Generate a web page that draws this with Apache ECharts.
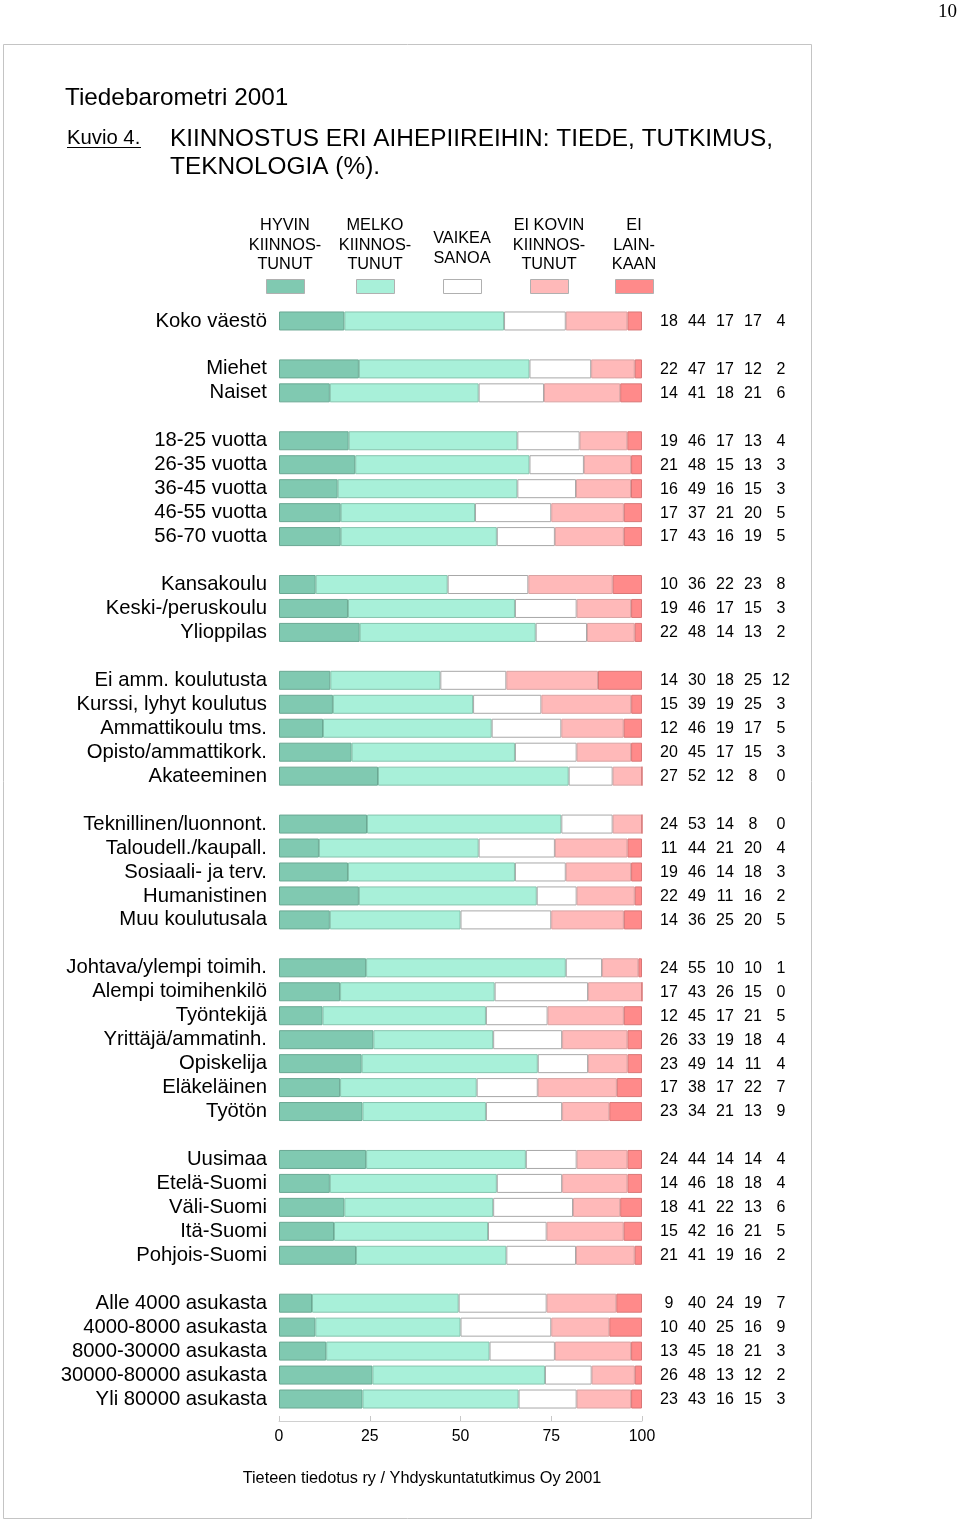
<!DOCTYPE html>
<html>
<head>
<meta charset="utf-8">
<script src="https://cdn.jsdelivr.net/npm/echarts@6/dist/echarts.min.js"></script>
<style>
html,body{margin:0;padding:0;background:#fff;}
#chart{width:960px;height:1520px;}
</style>
</head>
<body>
<div id="chart"></div>
<script>
// Rows top-to-bottom; '' marks the blank spacer rows between groups
const categories = [
  'Koko väestö', '',
  'Miehet', 'Naiset', '',
  '18-25 vuotta', '26-35 vuotta', '36-45 vuotta', '46-55 vuotta', '56-70 vuotta', '',
  'Kansakoulu', 'Keski-/peruskoulu', 'Ylioppilas', '',
  'Ei amm. koulutusta', 'Kurssi, lyhyt koulutus', 'Ammattikoulu tms.', 'Opisto/ammattikork.', 'Akateeminen', '',
  'Teknillinen/luonnont.', 'Taloudell./kaupall.', 'Sosiaali- ja terv.', 'Humanistinen', 'Muu koulutusala', '',
  'Johtava/ylempi toimih.', 'Alempi toimihenkilö', 'Työntekijä', 'Yrittäjä/ammatinh.', 'Opiskelija', 'Eläkeläinen', 'Työtön', '',
  'Uusimaa', 'Etelä-Suomi', 'Väli-Suomi', 'Itä-Suomi', 'Pohjois-Suomi', '',
  'Alle 4000 asukasta', '4000-8000 asukasta', '8000-30000 asukasta', '30000-80000 asukasta', 'Yli 80000 asukasta'
];

const hyvin      = [18, null, 22, 14, null, 19, 21, 16, 17, 17, null, 10, 19, 22, null, 14, 15, 12, 20, 27, null, 24, 11, 19, 22, 14, null, 24, 17, 12, 26, 23, 17, 23, null, 24, 14, 18, 15, 21, null, 9, 10, 13, 26, 23];
const melko      = [44, null, 47, 41, null, 46, 48, 49, 37, 43, null, 36, 46, 48, null, 30, 39, 46, 45, 52, null, 53, 44, 46, 49, 36, null, 55, 43, 45, 33, 49, 38, 34, null, 44, 46, 41, 42, 41, null, 40, 40, 45, 48, 43];
const vaikea     = [17, null, 17, 18, null, 17, 15, 16, 21, 16, null, 22, 17, 14, null, 18, 19, 19, 17, 12, null, 14, 21, 14, 11, 25, null, 10, 26, 17, 19, 14, 17, 21, null, 14, 18, 22, 16, 19, null, 24, 25, 18, 13, 16];
const eiKovin    = [17, null, 12, 21, null, 13, 13, 15, 20, 19, null, 23, 15, 13, null, 25, 25, 17, 15, 8, null, 8, 20, 18, 16, 20, null, 10, 15, 21, 18, 11, 22, 13, null, 14, 18, 13, 21, 16, null, 19, 16, 21, 12, 15];
const eiLainkaan = [4, null, 2, 6, null, 4, 3, 3, 5, 5, null, 8, 3, 2, null, 12, 3, 5, 3, 0, null, 0, 4, 3, 2, 5, null, 1, 0, 5, 4, 4, 7, 9, null, 4, 4, 6, 5, 2, null, 7, 9, 3, 2, 3];

const seriesNames = ['HYVIN\nKIINNOS-\nTUNUT', 'MELKO\nKIINNOS-\nTUNUT', 'VAIKEA\nSANOA', 'EI KOVIN\nKIINNOS-\nTUNUT', 'EI\nLAIN-\nKAAN'];
const xTicks = [0, 25, 50, 75, 100];

const titleText = 'Tiedebarometri 2001';
const figLabel = 'Kuvio 4.';
const figTitle = 'KIINNOSTUS ERI AIHEPIIREIHIN: TIEDE, TUTKIMUS,\nTEKNOLOGIA (%).';
const sourceText = 'Tieteen tiedotus ry / Yhdyskuntatutkimus Oy 2001';
const pageNumber = '10';

const allSeries = [hyvin, melko, vaikea, eiKovin, eiLainkaan];
const colors = ['#80c9b1', '#a8f0d9', '#ffffff', '#ffb9b9', '#ff8a8a'];
const borders = ['#6aa893', '#86c4ae', '#a8a8a8', '#d9a3a3', '#d97777'];
const FONT = '"Liberation Sans", Arial, Helvetica, sans-serif';

// Rows are shown as shares of their (rounded) total so every bar spans 0-100
const totals = categories.map((c, i) => allSeries.reduce((s, a) => s + (a[i] == null ? 0 : a[i]), 0));
const shares = allSeries.map(a => a.map((v, i) => v == null ? null : v / totals[i] * 100));

const chart = echarts.init(document.getElementById('chart'), null, {renderer: 'canvas'});

const legendX = [285, 375, 462, 549, 634];
const graphics = [];
// outer frame
graphics.push({type: 'rect', shape: {x: 3.5, y: 44.5, width: 808, height: 1474}, style: {fill: 'none', stroke: '#c4c4c4', lineWidth: 1}, z: 0});
graphics.push({type: 'text', x: 957, y: 12, style: {text: pageNumber, fontSize: 19, fontFamily: '"Liberation Serif", "Times New Roman", serif', fill: '#000', align: 'right', verticalAlign: 'middle'}});
graphics.push({type: 'text', x: 65, y: 98, style: {text: titleText, fontSize: 24.3, fontFamily: FONT, fill: '#000', align: 'left', verticalAlign: 'middle'}});
graphics.push({type: 'text', x: 67, y: 138, style: {text: figLabel, fontSize: 20.3, fontFamily: FONT, fill: '#000', align: 'left', verticalAlign: 'middle'}});
graphics.push({type: 'line', shape: {x1: 67, y1: 147.5, x2: 141, y2: 147.5}, style: {stroke: '#000', lineWidth: 1.2}});
graphics.push({type: 'text', x: 170, y: 139 - 14, style: {text: figTitle, fontSize: 24.4, lineHeight: 28, fontFamily: FONT, fill: '#000', align: 'left', verticalAlign: 'top'}});
graphics.push({type: 'text', x: 422, y: 1479, style: {text: sourceText, fontSize: 16.3, fontFamily: FONT, fill: '#000', align: 'center', verticalAlign: 'middle'}});
seriesNames.forEach((n, k) => {
  const lines = n.split('\n').length;
  graphics.push({type: 'text', x: legendX[k], y: lines === 3 ? 245.5 : 248.5, style: {text: n, fontSize: 16.3, lineHeight: 19.5, fontFamily: FONT, fill: '#000', align: 'center', verticalAlign: 'middle'}});
  graphics.push({type: 'rect', shape: {x: legendX[k] - 19 + 0.5, y: 279.5, width: 38, height: 14}, style: {fill: colors[k], stroke: '#b0b0b0', lineWidth: 1}});
});

const option = {
  backgroundColor: '#ffffff',
  animation: false,
  grid: {left: 279, right: 318, top: 309, height: 1102, containLabel: false},
  xAxis: {
    type: 'value', min: 0, max: 100, interval: 25, offset: 10,
    axisLine: {show: true, lineStyle: {color: '#d0d0d0', width: 1}},
    axisTick: {show: true, inside: true, length: 5, lineStyle: {color: '#c8c8c8'}},
    axisLabel: {color: '#000', fontSize: 15.8, fontFamily: FONT, margin: 8,
      formatter: v => xTicks.indexOf(v) >= 0 ? String(v) : ''},
    splitLine: {show: false}
  },
  yAxis: [
    {
      type: 'category', data: categories, inverse: true, position: 'left',
      axisLine: {show: false}, axisTick: {show: false},
      axisLabel: {interval: 0, color: '#000', fontSize: 20.3, fontFamily: FONT, margin: 12, padding: [2, 0, 0, 0]}
    },
    {
      type: 'category', data: categories, inverse: true, position: 'right',
      axisLine: {show: false}, axisTick: {show: false},
      axisLabel: {
        interval: 0, margin: 13, align: 'left',
        formatter: (v, i) => hyvin[i] == null ? '' : allSeries.map(a => '{n|' + a[i] + '}').join(''),
        rich: {n: {width: 28, align: 'center', fontSize: 16, fontFamily: FONT, color: '#000', padding: [1, 0, 0, 0]}}
      }
    }
  ],
  series: shares.map((d, k) => ({
    name: seriesNames[k], type: 'bar', stack: 'all', barWidth: 19, yAxisIndex: 0,
    data: d,
    itemStyle: {color: colors[k], borderColor: borders[k], borderWidth: 1},
    emphasis: {disabled: true}
  })),
  graphic: graphics
};
chart.setOption(option);
</script>
</body>
</html>
